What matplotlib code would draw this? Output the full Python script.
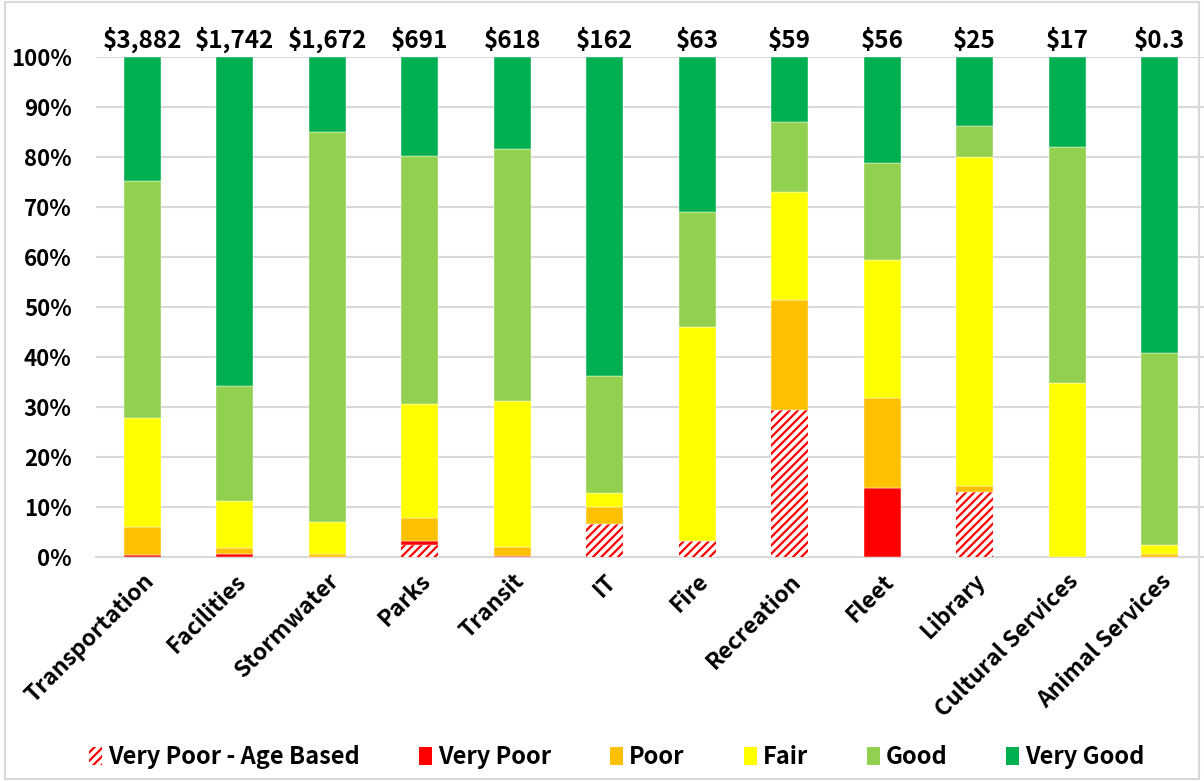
import matplotlib
matplotlib.use("Agg")
import matplotlib.pyplot as plt
import numpy as np
from matplotlib.patches import Rectangle, Patch

plt.rcParams['font.family'] = ['Noto Sans CJK JP', 'DejaVu Sans']
plt.rcParams['hatch.linewidth'] = 1.6

categories = ["Transportation", "Facilities", "Stormwater", "Parks", "Transit", "IT",
              "Fire", "Recreation", "Fleet", "Library", "Cultural Services", "Animal Services"]
totals = ["$3,882", "$1,742", "$1,672", "$691", "$618", "$162",
          "$63", "$59", "$56", "$25", "$17", "$0.3"]

# percent share of each condition (bottom to top)
very_poor_age = [0.0, 0.0, 0.0, 2.4, 0.0, 6.7, 3.3, 29.5, 0.0, 13.0, 0.0, 0.0]
very_poor     = [0.4, 0.6, 0.0, 0.9, 0.2, 0.0, 0.0, 0.0, 13.9, 0.0, 0.0, 0.0]
poor          = [5.7, 1.2, 0.7, 4.6, 1.8, 3.3, 0.0, 22.0, 18.0, 1.3, 0.0, 0.6]
fair          = [21.7, 9.4, 6.3, 22.8, 29.3, 2.8, 42.7, 21.5, 27.5, 65.7, 34.8, 1.9]
good          = [47.4, 23.0, 78.0, 49.5, 50.3, 23.4, 23.0, 14.0, 19.4, 6.2, 47.2, 38.4]
very_good     = [24.8, 65.8, 15.0, 19.8, 18.4, 63.8, 31.0, 13.0, 21.2, 13.8, 18.0, 59.1]

series = [
    ("Very Poor - Age Based", very_poor_age, "white", "#FF0000", "////"),
    ("Very Poor", very_poor, "#FF0000", None, None),
    ("Poor", poor, "#FFC000", None, None),
    ("Fair", fair, "#FFFF00", None, None),
    ("Good", good, "#92D050", None, None),
    ("Very Good", very_good, "#00B050", None, None),
]

FW = 'bold'
W, H = 1204, 781
fig = plt.figure(figsize=(W / 100, H / 100), dpi=100)
ax = fig.add_axes([96 / W, 1 - 557 / H, (1204 - 96) / W, 500 / H])

x = np.arange(len(categories))
bottom = np.zeros(len(categories))
handles = []
for name, vals, fc, hc, hatch in series:
    v = np.array(vals) / 100.0
    if hatch:
        ax.bar(x, v, 0.4, bottom=bottom, facecolor=fc, edgecolor=hc, hatch=hatch,
               linewidth=0, zorder=3)
        handles.append(Patch(facecolor=fc, edgecolor=hc, hatch=hatch, linewidth=0, label=name))
    else:
        ax.bar(x, v, 0.4, bottom=bottom, color=fc, edgecolor='white', linewidth=0.3, zorder=3)
        handles.append(Patch(facecolor=fc, edgecolor='none', label=name))
    bottom += v

for xi, b, t in zip(x, bottom, totals):
    ax.text(xi, b + 0.008, t, ha='center', va='bottom', fontsize=17.5, fontweight=FW)

ax.set_ylim(0, 1.0)
ax.set_xlim(-0.5, 11.48)
ax.set_yticks(np.arange(0, 1.01, 0.1))
ax.set_yticklabels([f"{int(round(t * 100))}%" for t in np.arange(0, 1.01, 0.1)],
                   fontsize=16, fontweight=FW)
ax.set_xticks(x)
ax.set_xticklabels(categories, rotation=45, ha='right', va='top', rotation_mode='anchor',
                   fontsize=16.5, fontweight=FW)
ax.tick_params(axis='both', length=0)
ax.tick_params(axis='y', pad=17.5)
ax.tick_params(axis='x', pad=9)
ax.yaxis.grid(True, color='#d9d9d9', linewidth=1.5, zorder=0)
ax.set_axisbelow(True)
for s in ['top', 'right', 'left']:
    ax.spines[s].set_visible(False)
ax.spines['bottom'].set_color('#d9d9d9')
ax.spines['bottom'].set_linewidth(1.5)

fig.legend(handles=handles, loc='center', bbox_to_anchor=(617 / W, 1 - 757 / H), ncol=6,
           frameon=False, prop={'size': 17, 'weight': FW}, handlelength=0.55,
           handleheight=0.8, handletextpad=0.25, columnspacing=2.5)

fig.add_artist(Rectangle((0.004, 0.003), 0.992, 0.994, transform=fig.transFigure,
                         fill=False, edgecolor='#d9d9d9', linewidth=1.5))

fig.savefig("out.png", dpi=100)
